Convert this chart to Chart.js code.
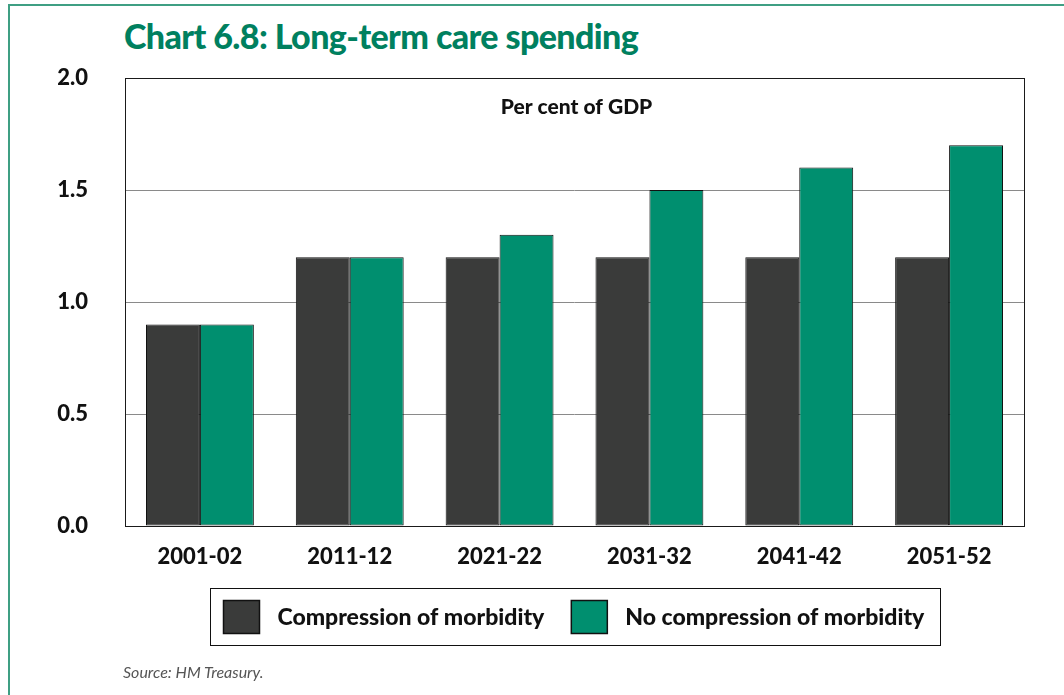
<!DOCTYPE html>
<html>
<head>
<meta charset="utf-8">
<script src="https://cdn.jsdelivr.net/npm/chart.js@4.4.1/dist/chart.umd.min.js"></script>
<style>
  html, body { margin: 0; padding: 0; background: #ffffff; }
  #page { position: relative; width: 1064px; height: 695px; overflow: hidden; background: #fff; }
  #frame { position: absolute; left: 8px; top: 4px; width: 1100px; height: 800px;
           border-left: 2px solid #3f9f83; border-top: 2px solid #3f9f83; }
  #title { position: absolute; left: 124px; top: 15px; font-family: Lato, "DejaVu Sans", sans-serif;
           font-weight: 900; font-size: 34px; color: #00805f; letter-spacing: -0.6px; white-space: nowrap; }
  #source { position: absolute; left: 123px; top: 662px; font-family: Lato, "DejaVu Sans", sans-serif;
            font-style: italic; font-size: 16px; color: #555555; white-space: nowrap; }
  canvas { position: absolute; left: 0; top: 0; }
</style>
</head>
<body>
<div id="page">
  <div id="frame"></div>
  <div id="title">Chart 6.8: Long-term care spending</div>
  <canvas id="c" width="1064" height="695"></canvas>
  <div id="source">Source: HM Treasury.</div>
</div>
<script>
// ---- data ----
const categories = ["2001-02", "2011-12", "2021-22", "2031-32", "2041-42", "2051-52"];
const compressionOfMorbidity = [0.9, 1.2, 1.2, 1.2, 1.2, 1.2];
const noCompressionOfMorbidity = [0.9, 1.2, 1.3, 1.5, 1.6, 1.7];
const seriesLabels = ["Compression of morbidity", "No compression of morbidity"];
const yTicks = [0.0, 0.5, 1.0, 1.5, 2.0];
const unitLabel = "Per cent of GDP";

const DARK = "#3a3b3a";
const GREEN = "#008f6f";
const FONT = "Lato, 'DejaVu Sans', sans-serif";

const plotFrame = {
  id: "plotFrame",
  afterDatasetsDraw(chart) {
    const a = chart.chartArea, ctx = chart.ctx;
    ctx.save();
    ctx.strokeStyle = "#1a1a1a";
    ctx.lineWidth = 1;
    ctx.strokeRect(Math.round(a.left) + 0.5, Math.round(a.top) + 0.5,
                   Math.round(a.right - a.left), Math.round(a.bottom - a.top));
    ctx.fillStyle = "#111";
    ctx.font = "900 21px " + FONT;
    ctx.textAlign = "center";
    ctx.textBaseline = "middle";
    ctx.fillText(unitLabel, (a.left + a.right) / 2 + 2, a.top + 29);
    ctx.restore();
  }
};

const boxLegend = {
  id: "boxLegend",
  afterDraw(chart) {
    const ctx = chart.ctx, a = chart.chartArea;
    const ds = chart.data.datasets;
    ctx.save();
    ctx.font = "900 23px " + FONT;
    const boxW = 36, boxH = 33, gapText = 18, gapItem = 27, padL = 13, padR = 16;
    let content = 0;
    ds.forEach((d, i) => {
      content += boxW + gapText + ctx.measureText(d.label).width;
      if (i < ds.length - 1) content += gapItem;
    });
    const frameW = padL + content + padR;
    const cx = (a.left + a.right) / 2;
    const fx = Math.round(cx - frameW / 2) + 0.5;
    const fy = Math.round(a.bottom + 62) + 0.5;
    const fh = 57;
    ctx.strokeStyle = "#111";
    ctx.lineWidth = 1;
    ctx.strokeRect(fx, fy, Math.round(frameW), fh);
    let x = fx + padL;
    const cy = fy + fh / 2;
    ds.forEach((d) => {
      ctx.fillStyle = d.backgroundColor;
      ctx.fillRect(x, cy - boxH / 2, boxW, boxH);
      ctx.strokeStyle = "#111";
      ctx.lineWidth = 1.5;
      ctx.strokeRect(x, cy - boxH / 2, boxW, boxH);
      x += boxW + gapText;
      ctx.fillStyle = "#111";
      ctx.textAlign = "left";
      ctx.textBaseline = "middle";
      ctx.fillText(d.label, x, cy + 1);
      x += ctx.measureText(d.label).width + gapItem;
    });
    ctx.restore();
  }
};

new Chart(document.getElementById("c"), {
  type: "bar",
  data: {
    labels: categories,
    datasets: [
      { label: seriesLabels[0], data: compressionOfMorbidity, backgroundColor: DARK,
        borderColor: "#111", borderWidth: 1, borderSkipped: false },
      { label: seriesLabels[1], data: noCompressionOfMorbidity, backgroundColor: GREEN,
        borderColor: "#111", borderWidth: 1, borderSkipped: false }
    ]
  },
  options: {
    responsive: false,
    animation: false,
    devicePixelRatio: 1,
    layout: { padding: { left: 0, top: 78, right: 40, bottom: 110 } },
    datasets: { bar: { categoryPercentage: 0.72, barPercentage: 1.0 } },
    plugins: {
      legend: { display: false },
      title: { display: false },
      tooltip: { enabled: false }
    },
    scales: {
      x: {
        grid: { display: false, drawTicks: false },
        border: { display: false },
        ticks: { color: "#111", font: { family: FONT, size: 22, weight: "900" }, padding: 18, maxRotation: 0 },
        afterFit(s) { s.height = 59; }
      },
      y: {
        min: 0, max: 2,
        afterBuildTicks(s) { s.ticks = yTicks.map(v => ({ value: v })); },
        grid: { color: "#8a8a8a", lineWidth: 1, drawTicks: false },
        border: { display: false },
        ticks: { color: "#111", font: { family: FONT, size: 22, weight: "900" }, padding: 37,
                 callback: (v) => Number(v).toFixed(1) },
        afterFit(s) { s.width = 125; }
      }
    }
  },
  plugins: [plotFrame, boxLegend]
});
</script>
</body>
</html>
